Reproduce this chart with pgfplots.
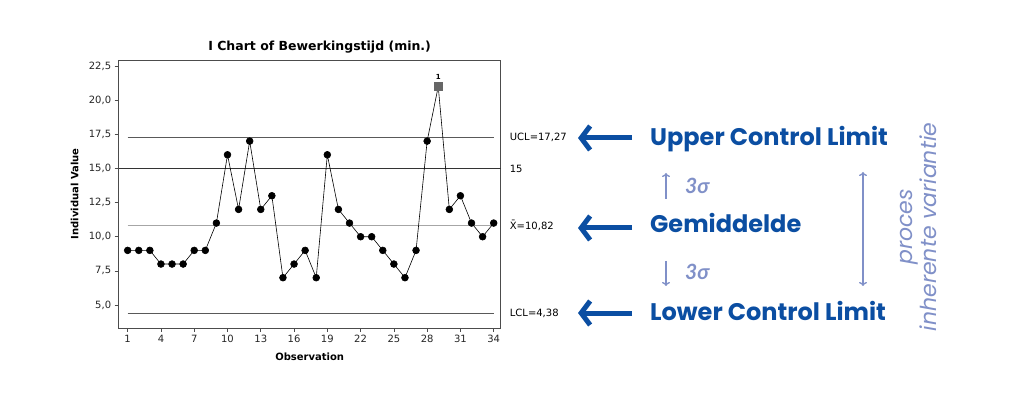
\documentclass[border=0pt]{standalone}
\usepackage{pgfplots}
\pgfplotsset{compat=1.18}
\usepackage{fontspec}
\setmainfont{DejaVu Sans}
\newfontfamily\pop{Poppins}
\newfontfamily\lato{Lato}
\usetikzlibrary{arrows.meta}
\definecolor{dblue}{HTML}{0B4EA2}
\definecolor{lblue}{HTML}{8090C8}
\begin{document}
\begin{tikzpicture}[x=1pt,y=1pt]
\path[use as bounding box, fill=white] (0,0) rectangle (1014,399);
\begin{axis}[at={(107,52)}, anchor=south west, width=382pt, height=268pt, scale only axis,
  xmin=0.19, xmax=34.63, ymin=3.32, ymax=22.94,
  xtick={1,4,...,34}, ytick={5,7.5,...,22.5},
  tick pos=left, tick align=outside, major tick length=4pt,
  tick style={black!70, line width=0.6pt},
  axis line style={black!70, line width=0.8pt},
  /pgf/number format/assume math mode=true,
  yticklabel style={/pgf/number format/.cd, fixed, fixed zerofill, precision=1, use comma},
  ticklabel style={font=\fontsize{10}{12}\selectfont, text=black!85},
  xlabel={\bfseries Observation}, ylabel={\bfseries Individual Value},
  label style={font=\fontsize{10}{12}\selectfont},
  xlabel style={at={(axis description cs:0.5,-0.107)}, anchor=center},
  ylabel style={at={(axis description cs:-0.115,0.5)}, anchor=center, rotate=0},
  title={\bfseries I Chart of Bewerkingstijd (min.)},
  title style={at={(axis description cs:0.526,1.025)}, anchor=center, font=\fontsize{12.5}{14}\selectfont},
  clip=false]
\addplot[black!65, line width=0.8pt] coordinates {(1,17.27) (34,17.27)};
\addplot[black!80, line width=1.4pt] coordinates {(0.19,15) (34.63,15)};
\addplot[black!35, line width=0.8pt] coordinates {(1,10.82) (34,10.82)};
\addplot[black!65, line width=0.8pt] coordinates {(1,4.38) (34,4.38)};
\addplot[black, line width=0.6pt, mark=*, mark size=3.4pt, mark options={fill=black}] coordinates {
(1,9) (2,9) (3,9) (4,8) (5,8) (6,8) (7,9) (8,9) (9,11) (10,16) (11,12) (12,17) (13,12) (14,13)
(15,7) (16,8) (17,9) (18,7) (19,16) (20,12) (21,11) (22,10) (23,10) (24,9) (25,8) (26,7) (27,9)
(28,17) (29,21) (30,12) (31,13) (32,11) (33,10) (34,11)};
\addplot[only marks, mark=square*, mark size=4.2pt, mark options={fill=black!60, draw=black!60}] coordinates {(29,21)};
\node[font=\bfseries\fontsize{7}{8}\selectfont, inner sep=0] at (axis cs:29,21.7) {1};
\node[anchor=west, inner sep=0, font=\fontsize{10}{12}\selectfont] at (axis cs:34.63,17.27) [xshift=9pt] {UCL=17,27};
\node[anchor=west, inner sep=0, font=\fontsize{10}{12}\selectfont] at (axis cs:34.63,15) [xshift=9pt] {15};
\node[anchor=west, inner sep=0, font=\fontsize{10}{12}\selectfont] at (axis cs:34.63,10.82) [xshift=9pt] {\={X}=10,82};
\node[anchor=west, inner sep=0, font=\fontsize{10}{12}\selectfont] at (axis cs:34.63,4.38) [xshift=9pt] {LCL=4,38};
\end{axis}
% annotations
\foreach \yy in {261,171,86} {
  \draw[dblue, line width=5pt, -{Straight Barb[length=9pt, width=24pt]}] (632,\yy) -- (578,\yy);
}
\node[anchor=base west, inner sep=0, text=dblue, font=\pop\bfseries\fontsize{24}{26}\selectfont] at (650,253) {Upper Control Limit};
\node[anchor=base west, inner sep=0, text=dblue, font=\pop\bfseries\fontsize{24}{26}\selectfont] at (650,166) {Gemiddelde};
\node[anchor=base west, inner sep=0, text=dblue, font=\pop\bfseries\fontsize{24}{26}\selectfont] at (650,79) {Lower Control Limit};
\draw[lblue, line width=1.3pt, -{To[length=4pt, width=8pt]}] (666,200) -- (666,226);
\draw[lblue, line width=1.3pt, -{To[length=4pt, width=8pt]}] (666,138) -- (666,113);
\draw[lblue, line width=1.3pt, {To[length=4pt, width=8pt]}-{To[length=4pt, width=8pt]}] (863,227) -- (863,113);
\node[anchor=base west, inner sep=0, text=lblue, font=\lato\bfseries\itshape\fontsize{21}{23}\selectfont] at (685,205) {3σ};
\node[anchor=base west, inner sep=0, text=lblue, font=\lato\bfseries\itshape\fontsize{21}{23}\selectfont] at (685,119) {3σ};
\node[rotate=90, align=center, inner sep=0, text=lblue, font=\pop\itshape\fontsize{22}{24}\selectfont] at (918,172) {proces\\inherente variantie};
\end{tikzpicture}
\end{document}
